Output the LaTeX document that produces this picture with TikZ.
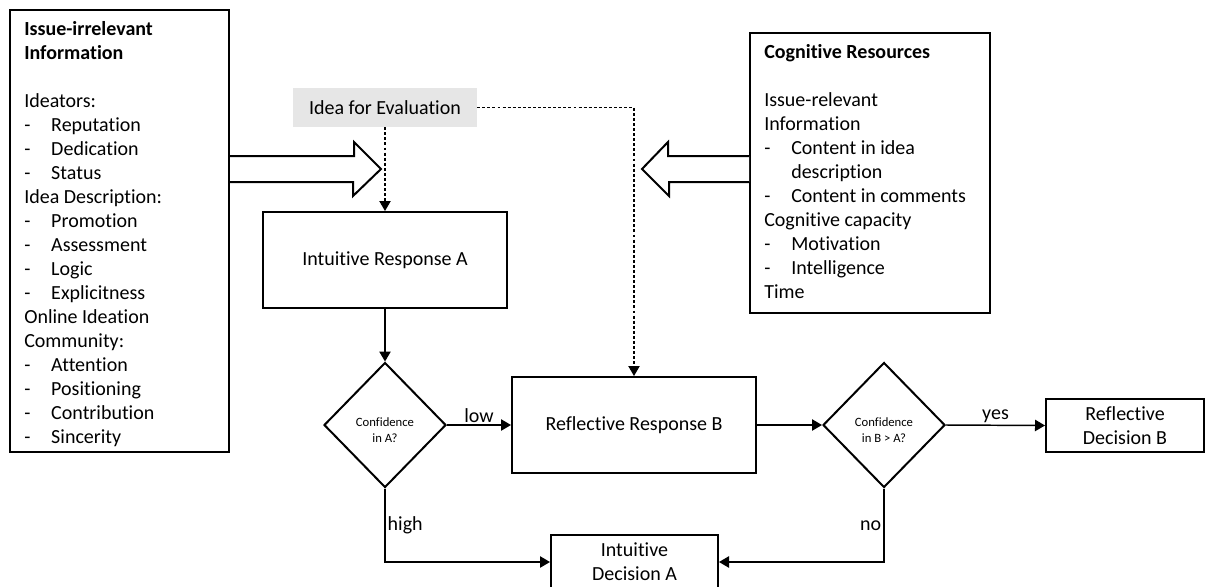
\documentclass[tikz,border=0pt]{standalone}
\usepackage{fontspec}
\setmainfont{Carlito}[Ligatures={NoCommon}, RawFeature={-liga;-clig;-dlig}]
\usetikzlibrary{shapes.geometric,arrows.meta,calc}

\definecolor{ideafill}{RGB}{230,230,230}

% list helpers for the two side panels
\newcommand\itm[1]{\makebox[20.25pt][l]{-}#1}
\newcommand\itmcont[1]{\hspace*{20.25pt}#1}
\newcommand\topstrut{\rule{0pt}{12pt}}

\begin{document}
\begin{tikzpicture}[x=0.75pt,y=-0.75pt,
  every node/.style={font=\fontsize{15}{18}\selectfont, text=black},
  panel/.style={draw, line width=1.5pt, inner sep=0pt},
  paneltext/.style={anchor=north west, align=left, inner sep=0pt},
  proc/.style={draw, line width=1.5pt, align=center, inner sep=0pt},
  decision/.style={draw, diamond, line width=1.5pt, inner sep=0pt,
    minimum width=91.5pt, minimum height=93.75pt},
  dtext/.style={align=center, inner sep=0pt, font=\fontsize{9.5}{12}\selectfont},
  flow/.style={line width=1.1pt, -{Triangle[length=7.5pt,width=8.5pt]}},
  dashflow/.style={line width=0.8pt, dash pattern=on 2.2pt off 1.6pt,
    -{Triangle[length=7.5pt,width=8.5pt]}},
  blockarrow/.style={draw, fill=white, line width=1.5pt, line join=miter},
  lbl/.style={inner sep=1.5pt},
]
\useasboundingbox (0,0) rectangle (1210,586);

% side panels
\node[panel, minimum width=164.25pt, minimum height=331.5pt] (irr) at (119.5,231) {};
\node[paneltext] at ($(irr.north west)+(15,10.5)$) {%
  \topstrut\textbf{Issue-irrelevant}\\
  \textbf{Information}\\[18pt]
  Ideators:\\
  \itm{Reputation}\\
  \itm{Dedication}\\
  \itm{Status}\\
  Idea Description:\\
  \itm{Promotion}\\
  \itm{Assessment}\\
  \itm{Logic}\\
  \itm{Explicitness}\\
  Online Ideation\\
  Community:\\
  \itm{Attention}\\
  \itm{Positioning}\\
  \itm{Contribution}\\
  \itm{Sincerity}};

\node[panel, minimum width=180pt, minimum height=210pt] (cog) at (870,173) {};
\node[paneltext] at ($(cog.north west)+(15,10.5)$) {%
  \topstrut\textbf{Cognitive Resources}\\[18pt]
  Issue-relevant\\
  Information\\
  \itm{Content in idea}\\
  \itmcont{description}\\
  \itm{Content in comments}\\
  Cognitive capacity\\
  \itm{Motivation}\\
  \itm{Intelligence}\\
  Time};

% block arrows feeding the process
\coordinate (lt) at (381,169);
\draw[blockarrow] ($(irr.east |- lt)+(0,-13)$) -- ++(124,0) -- ++(0,-14) -- (lt)
  -- ++(-28,27) -- ++(0,-14) -- ($(irr.east |- lt)+(0,13)$);
\coordinate (rt) at (642,169);
\draw[blockarrow] ($(cog.west |- rt)+(0,-13)$) -- ++(-81,0) -- ++(0,-14) -- (rt)
  -- ++(27,27) -- ++(0,-14) -- ($(cog.west |- rt)+(0,13)$);

% process nodes
\node[fill=ideafill, minimum width=138pt, minimum height=29.25pt, inner sep=0pt] (idea) at (385,107.5) {Idea for Evaluation};
\node[proc, minimum width=183pt, minimum height=72pt] (irA) at (385,260) {Intuitive Response A};
\node[decision] (dA) at (385,425) {};
\node[dtext] at ($(dA.center)+(0,5)$) {Confidence\\in A?};
\node[proc, minimum width=183pt, minimum height=72pt] (rrB) at (634,425) {Reflective Response B};
\node[decision] (dB) at (884,425) {};
\node[dtext] at ($(dB.center)+(0,5)$) {Confidence\\in B > A?};
\node[proc, minimum width=118.5pt, minimum height=39.75pt] (rdB) at (1125,425.5) {Reflective\\Decision B};
\node[proc, minimum width=125.25pt, minimum height=40.5pt] (idA) at (634.5,562) {Intuitive\\Decision A};

% connectors
\draw[dashflow] (idea.south) -- (irA.north);
\draw[dashflow] (idea.east) -| (rrB.north);
\draw[flow] (irA.south) -- (dA.north);
\draw[flow] (dA.east) -- node[lbl, above] {low} (rrB.west);
\draw[flow] (rrB.east) -- (dB.west);
\draw[flow] (dB.east) -- node[lbl, above] {yes} (rdB.west);
\draw[flow] (dA.south) |- node[lbl, pos=0.25, right] {high} (idA.west);
\draw[flow] (dB.south) |- node[lbl, pos=0.25, left] {no} (idA.east);
\end{tikzpicture}
\end{document}
